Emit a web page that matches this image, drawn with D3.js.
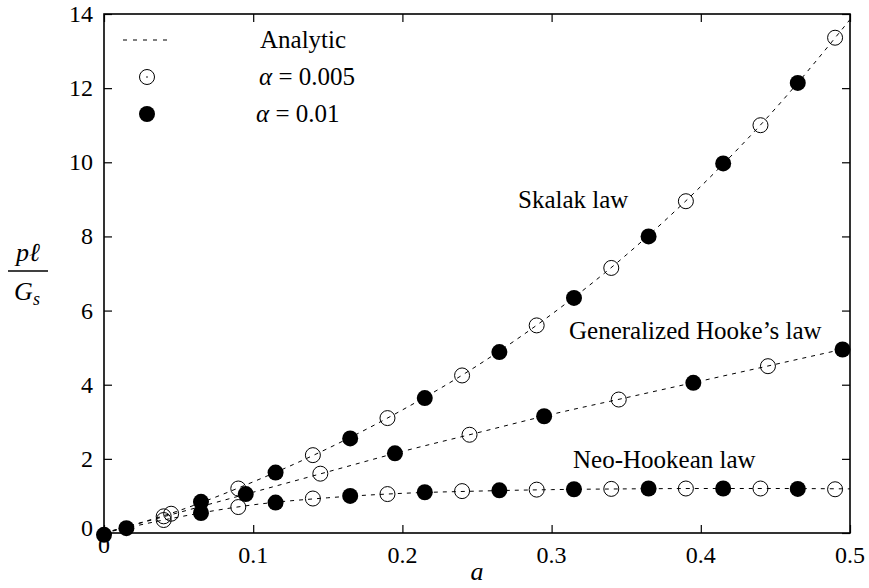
<!DOCTYPE html>
<html>
<head>
<meta charset="utf-8">
<script src="https://cdn.jsdelivr.net/npm/d3@7"></script>
<style>
  body { margin: 0; background: #fff; }
  svg text { font-family: 'Liberation Serif', 'DejaVu Serif', serif; fill: #000; }
</style>
</head>
<body>
<script>
// analytic curves, sampled every 0.05
const aAnalytic = [0, 0.05, 0.1, 0.15, 0.2, 0.25, 0.3, 0.35, 0.4, 0.45, 0.5];
const skalakAnalytic = [0, 0.6, 1.38, 2.28, 3.32, 4.51, 5.9, 7.5, 9.35, 11.45, 13.85];
const hookeAnalytic = [0, 0.55, 1.1, 1.65, 2.2, 2.7, 3.2, 3.65, 4.1, 4.55, 5.0];
const neoAnalytic = [0, 0.43, 0.76, 0.95, 1.07, 1.13, 1.17, 1.19, 1.2, 1.2, 1.19];

// alpha = 0.005 (open circles)
const aOpen = [0.04, 0.09, 0.14, 0.19, 0.24, 0.29, 0.34, 0.39, 0.44, 0.49];
const skalakOpen = [0.45, 1.2, 2.1, 3.1, 4.25, 5.6, 7.15, 8.95, 11.0, 13.36];
const neoOpen = [0.35, 0.7, 0.93, 1.05, 1.13, 1.17, 1.19, 1.2, 1.2, 1.18];
const aHookeOpen = [0.045, 0.145, 0.245, 0.345, 0.445];
const hookeOpen = [0.52, 1.6, 2.65, 3.6, 4.5];

// alpha = 0.01 (filled circles)
const aFilled = [0, 0.015, 0.065, 0.115, 0.165, 0.215, 0.265, 0.315, 0.365, 0.415, 0.465];
const skalakFilled = [-0.05, 0.13, 0.84, 1.63, 2.55, 3.64, 4.88, 6.34, 8.0, 9.97, 12.14];
const aNeoFilled = [0.065, 0.115, 0.165, 0.215, 0.265, 0.315, 0.365, 0.415, 0.465];
const neoFilled = [0.54, 0.82, 1.0, 1.1, 1.15, 1.18, 1.2, 1.2, 1.19];
const aHookeFilled = [0.095, 0.195, 0.295, 0.395, 0.495];
const hookeFilled = [1.05, 2.15, 3.15, 4.05, 4.95];

const xTicks = [0, 0.1, 0.2, 0.3, 0.4, 0.5];
const yTicks = [0, 2, 4, 6, 8, 10, 12, 14];

let svg = d3.select('body')
  .append('svg')
  .attr('width', 869)
  .attr('height', 588)
  .attr('font-family', "'Liberation Serif', 'DejaVu Serif', serif");

let pLeft = 104, pRight = 850, pTop = 14, pBottom = 533;

let x = d3.scaleLinear().domain([0, 0.5]).range([pLeft, pRight]);
let y = d3.scaleLinear().domain([0, 14]).range([pBottom, pTop]);

svg.append('clipPath').attr('id', 'clip')
  .append('rect')
  .attr('x', pLeft).attr('y', pTop)
  .attr('width', pRight - pLeft).attr('height', pBottom - pTop);

let zip = (xs, ys) => xs.map((v, i) => [v, ys[i]]);

// dashed analytic lines
let line = d3.line()
  .x(d => x(d[0]))
  .y(d => y(d[1]))
  .curve(d3.curveMonotoneX);

[skalakAnalytic, hookeAnalytic, neoAnalytic].forEach(vals => {
  svg.append('path')
    .attr('clip-path', 'url(#clip)')
    .attr('d', line(zip(aAnalytic, vals)))
    .attr('fill', 'none')
    .attr('stroke', 'black')
    .attr('stroke-width', 1)
    .attr('stroke-dasharray', '4,5');
});

// open circles
let openPts = zip(aOpen, skalakOpen)
  .concat(zip(aOpen, neoOpen))
  .concat(zip(aHookeOpen, hookeOpen));
svg.append('g').selectAll('circle').data(openPts)
  .enter().append('circle')
  .attr('cx', d => x(d[0]))
  .attr('cy', d => y(d[1]))
  .attr('r', 7.5)
  .attr('fill', 'none')
  .attr('stroke', 'black')
  .attr('stroke-width', 1);

// filled circles
let filledPts = zip(aFilled, skalakFilled)
  .concat(zip(aNeoFilled, neoFilled))
  .concat(zip(aHookeFilled, hookeFilled));
svg.append('g').selectAll('circle').data(filledPts)
  .enter().append('circle')
  .attr('cx', d => x(d[0]))
  .attr('cy', d => y(d[1]))
  .attr('r', 8)
  .attr('fill', 'black');

// axes: ticks point inward, mirrored on top and right
let tickLen = 8;
svg.append('g')
  .attr('transform', `translate(0,${pBottom})`)
  .call(d3.axisTop(x).tickValues(xTicks).tickSize(tickLen).tickFormat(''));
svg.append('g')
  .attr('transform', `translate(0,${pTop})`)
  .call(d3.axisBottom(x).tickValues(xTicks).tickSize(tickLen).tickFormat(''));
svg.append('g')
  .attr('transform', `translate(${pLeft},0)`)
  .call(d3.axisRight(y).tickValues(yTicks).tickSize(tickLen).tickFormat(''));
svg.append('g')
  .attr('transform', `translate(${pRight},0)`)
  .call(d3.axisLeft(y).tickValues(yTicks).tickSize(tickLen).tickFormat(''));
svg.selectAll('.domain').remove();
svg.selectAll('.tick line').attr('stroke', 'black').attr('stroke-width', 1.2);

svg.append('rect')
  .attr('x', pLeft).attr('y', pTop)
  .attr('width', pRight - pLeft).attr('height', pBottom - pTop)
  .attr('fill', 'none')
  .attr('stroke', 'black')
  .attr('stroke-width', 1.6);

// tick labels
svg.append('g').selectAll('text').data(xTicks)
  .enter().append('text')
  .attr('x', d => x(d))
  .attr('y', d => d === 0 ? 553 : 563)
  .attr('text-anchor', 'middle')
  .attr('font-size', 24)
  .text(d => d3.format('')(d));

svg.append('g').selectAll('text').data(yTicks)
  .enter().append('text')
  .attr('x', 93)
  .attr('y', d => y(d) + (d === 0 ? 3 : 8))
  .attr('text-anchor', 'end')
  .attr('font-size', 24)
  .text(d => d);

// axis titles
svg.append('text')
  .attr('x', x(0.25)).attr('y', 580)
  .attr('text-anchor', 'middle')
  .attr('font-size', 26)
  .attr('font-style', 'italic')
  .text('a');

svg.append('text')
  .attr('x', 28).attr('y', 261)
  .attr('text-anchor', 'middle')
  .attr('font-size', 26)
  .attr('font-style', 'italic')
  .text('pℓ');
svg.append('line')
  .attr('x1', 8).attr('x2', 48)
  .attr('y1', 271).attr('y2', 271)
  .attr('stroke', 'black')
  .attr('stroke-width', 1.5);
let gs = svg.append('text')
  .attr('x', 27).attr('y', 300)
  .attr('text-anchor', 'middle')
  .attr('font-size', 26)
  .attr('font-style', 'italic');
gs.append('tspan').text('G');
gs.append('tspan').attr('font-size', 18).attr('dy', 5).text('s');

// curve labels
let curveLabels = [
  {text: 'Skalak law', x: 518, y: 208},
  {text: 'Generalized Hooke\u2019s law', x: 569, y: 339},
  {text: 'Neo-Hookean law', x: 573, y: 468}
];
svg.append('g').selectAll('text').data(curveLabels)
  .enter().append('text')
  .attr('x', d => d.x)
  .attr('y', d => d.y)
  .attr('font-size', 25)
  .text(d => d.text);

// legend
svg.append('line')
  .attr('x1', 123).attr('x2', 172)
  .attr('y1', 40).attr('y2', 40)
  .attr('stroke', 'black')
  .attr('stroke-width', 1)
  .attr('stroke-dasharray', '4,6');
svg.append('circle')
  .attr('cx', 147).attr('cy', 77).attr('r', 7.5)
  .attr('fill', 'none').attr('stroke', 'black').attr('stroke-width', 1);
svg.append('circle')
  .attr('cx', 147).attr('cy', 77).attr('r', 0.8)
  .attr('fill', 'black');
svg.append('circle')
  .attr('cx', 147).attr('cy', 114).attr('r', 8)
  .attr('fill', 'black');

svg.append('text')
  .attr('x', 260).attr('y', 48)
  .attr('font-size', 25)
  .text('Analytic');

[{v: '0.005', yy: 85, xx: 259}, {v: '0.01', yy: 122, xx: 256}].forEach(d => {
  let t = svg.append('text')
    .attr('x', d.xx).attr('y', d.yy)
    .attr('font-size', 25);
  t.append('tspan').attr('font-style', 'italic').text('α');
  t.append('tspan').text(' = ' + d.v);
});
</script>
</body>
</html>
